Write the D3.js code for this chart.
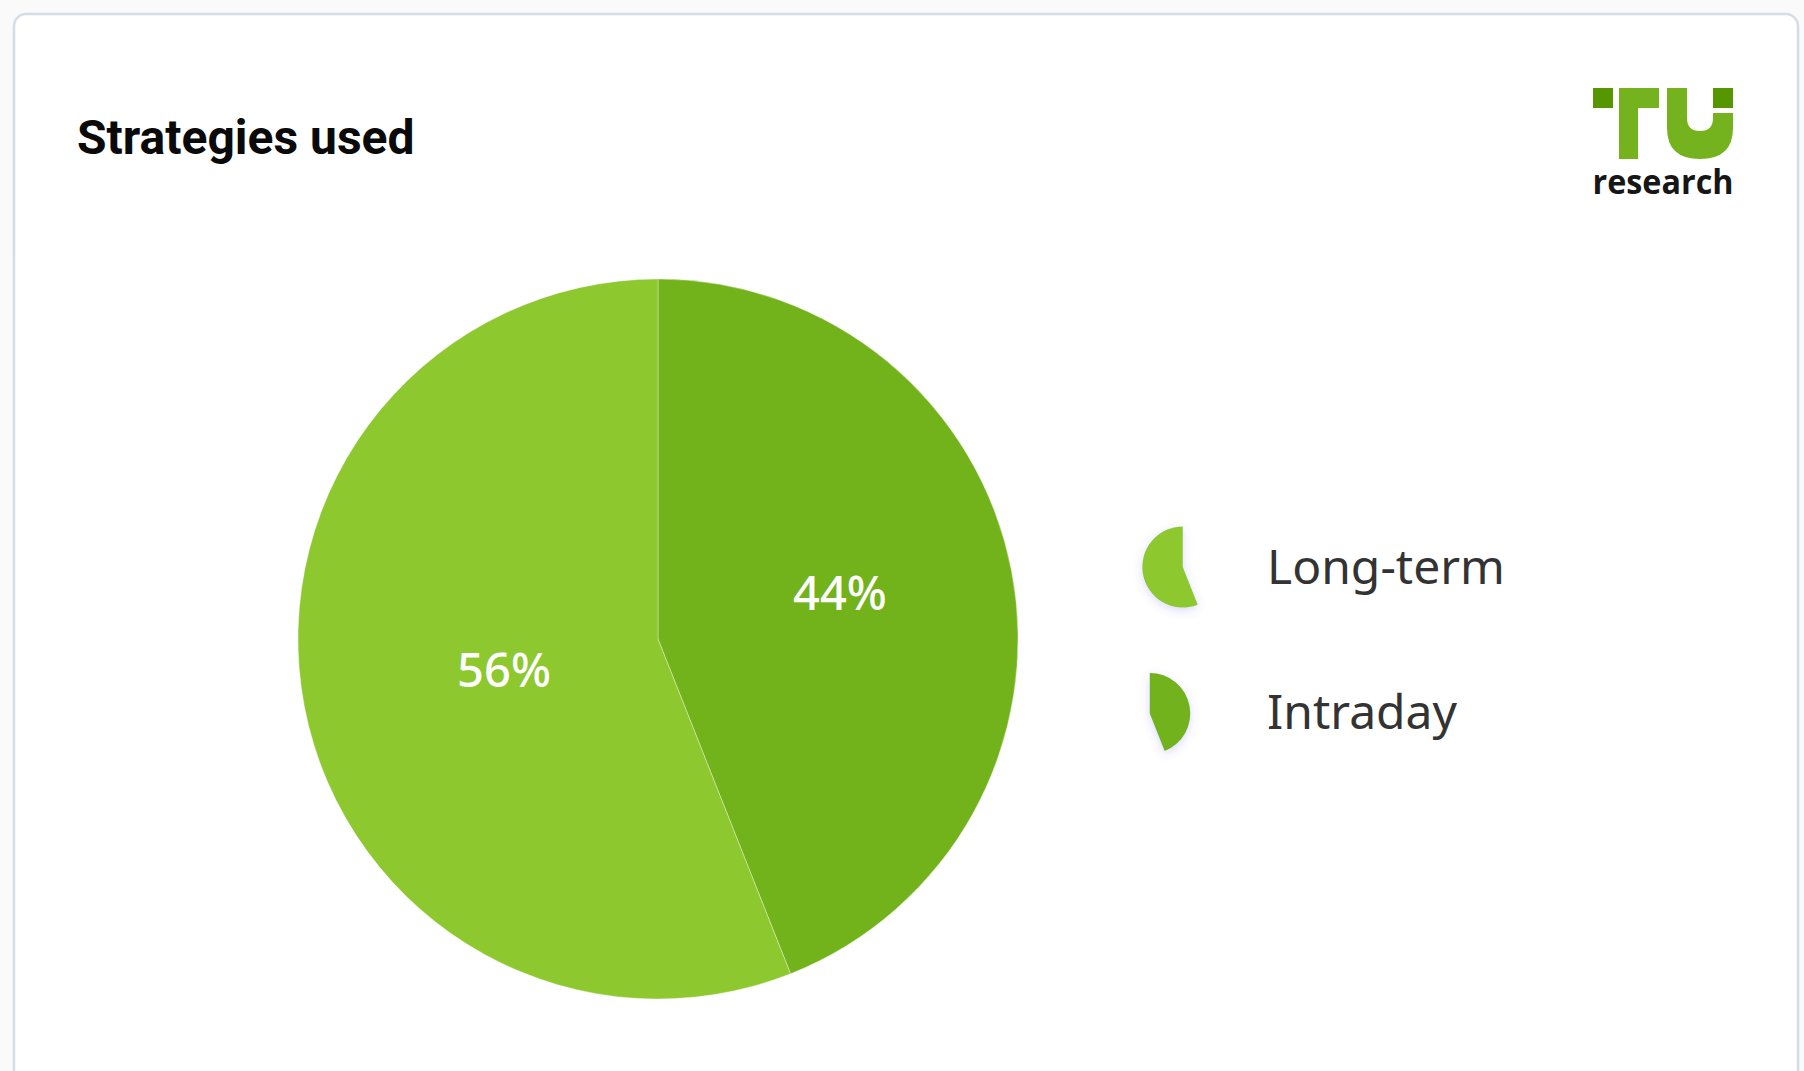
<!DOCTYPE html>
<html>
<head>
<meta charset="utf-8">
<script src="https://cdn.jsdelivr.net/npm/d3@7"></script>
<style>
  html, body { margin: 0; padding: 0; background: #fafafb; }
  svg { display: block; }
</style>
</head>
<body>
<svg id="chart" width="1804" height="1071"></svg>
<script>
// ---- data ----
const title = "Strategies used";
const categories = ["Long-term", "Intraday"];
const values = [56, 44];
const colors = ["#8dc82f", "#72b21b"];
// drawing order of slices (clockwise from 12 o'clock)
const sliceOrder = ["Intraday", "Long-term"];

const W = 1804, H = 1071;
const svg = d3.select("#chart");

// defs: shadow for legend icons
const defs = svg.append("defs");
const f = defs.append("filter").attr("id", "iconShadow")
  .attr("x", "-60%").attr("y", "-60%").attr("width", "220%").attr("height", "220%");
f.append("feDropShadow").attr("dx", 0).attr("dy", 3).attr("stdDeviation", 5)
  .attr("flood-color", "#5a5cf0").attr("flood-opacity", 0.22);

// card
svg.append("rect")
  .attr("x", 14).attr("y", 14).attr("width", 1784).attr("height", 1120)
  .attr("rx", 12).attr("ry", 12)
  .attr("fill", "#ffffff").attr("stroke", "#d6dce6").attr("stroke-width", 2.5);

// title
svg.append("text")
  .attr("x", 77).attr("y", 154)
  .attr("font-family", "Roboto, sans-serif").attr("font-weight", 700)
  .attr("font-size", 48).attr("fill", "#0a0a0a")
  .text(title);

// logo
const logo = svg.append("g").attr("transform", "translate(1593,88)");
const dark = "#569600", light = "#74b31d";
logo.append("rect").attr("x", 0).attr("y", 0).attr("width", 20).attr("height", 20).attr("fill", dark);
logo.append("path").attr("fill", light)
  .attr("d", "M26,0 H66 V20 H45 V71 H26 Z");
logo.append("path").attr("fill", light)
  .attr("d", "M74,0 H94 V30 Q94,43 107,43 Q120,43 120,30 V25 H140 V40 Q140,71 107,71 Q74,71 74,40 Z");
logo.append("rect").attr("x", 120).attr("y", 0).attr("width", 20).attr("height", 20).attr("fill", dark);
logo.append("text")
  .attr("x", 70).attr("y", 106).attr("text-anchor", "middle")
  .attr("font-family", "'Open Sans', sans-serif").attr("font-weight", 700)
  .attr("font-size", 34).attr("fill", "#161616")
  .attr("textLength", 141).attr("lengthAdjust", "spacingAndGlyphs")
  .text("research");

// pie
const data = sliceOrder.map(name => {
  const i = categories.indexOf(name);
  return { name, value: values[i], color: colors[i] };
});
const cx = 658, cy = 639, R = 360;
const pie = d3.pie().sort(null).value(d => d.value);
const arcs = pie(data);
const arc = d3.arc().innerRadius(0).outerRadius(R);

const pg = svg.append("g").attr("transform", `translate(${cx},${cy})`);
pg.selectAll("path.slice").data(arcs).enter().append("path")
  .attr("class", "slice")
  .attr("d", arc)
  .attr("fill", d => d.data.color)
  .attr("stroke", "rgba(255,255,255,0.35)").attr("stroke-width", 1);

// labels: placed on an elliptical label ring around the pie centre
const labelArcX = d3.arc().innerRadius(171).outerRadius(171);
const labelArcY = d3.arc().innerRadius(206).outerRadius(206);
pg.selectAll("text.lbl").data(arcs).enter().append("text")
  .attr("class", "lbl")
  .attr("transform", d => {
    const x = labelArcX.centroid(d)[0];
    const y = labelArcY.centroid(d)[1];
    return `translate(${x + 14},${y - 7.5})`;
  })
  .attr("text-anchor", "middle").attr("dy", "0.36em")
  .attr("font-family", "'Noto Sans', 'Open Sans', sans-serif").attr("font-size", 47)
  .attr("font-weight", 500)
  .attr("fill", "#ffffff")
  .text(d => d.value + "%");

// legend
const legendX = 1170, legendY0 = 567, legendStep = 145;
const iconArc = d3.arc().innerRadius(0).outerRadius(40.5);
categories.forEach((name, i) => {
  const a = arcs.find(d => d.data.name === name);
  const g = svg.append("g").attr("transform", `translate(0,${legendY0 + i * legendStep})`);
  const icon = g.append("path").attr("d", iconArc(a)).attr("fill", a.data.color)
    .attr("filter", "url(#iconShadow)");
  const bb = icon.node().getBBox();
  icon.attr("transform", `translate(${legendX - (bb.x + bb.width / 2)},${-(bb.y + bb.height / 2)})`);
  g.append("text")
    .attr("x", 1267).attr("y", 0).attr("dy", "0.36em")
    .attr("font-family", "'Noto Sans', 'Open Sans', sans-serif").attr("font-size", 48)
    .attr("fill", "#333333")
    .text(name);
});
</script>
</body>
</html>
